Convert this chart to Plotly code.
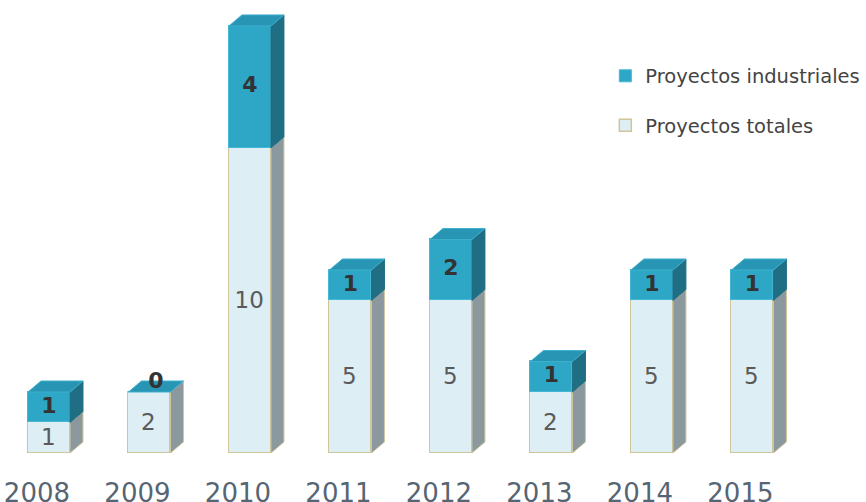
import plotly.graph_objects as go

years = ["2008", "2009", "2010", "2011", "2012", "2013", "2014", "2015"]
totales = [1, 2, 10, 5, 5, 2, 5, 5]
industriales = [1, 0, 4, 1, 2, 1, 1, 1]

xs = list(range(len(years)))
W = 0.418   # bar width (x units)
DX = 0.129  # depth offset x
DY = 0.36   # depth offset y

C_IND_FRONT = "#2ea7c7"
C_IND_SIDE = "#1f6e84"
C_IND_TOP = "#2795b3"
C_TOT_FRONT = "#ddeef5"
C_TOT_EDGE = "#cfc59b"
C_TOT_SIDE = "#8b999e"

fig = go.Figure()

fig.add_trace(go.Bar(
    x=xs, y=totales, width=W, name="Proyectos totales",
    marker=dict(color=C_TOT_FRONT, line=dict(color=C_TOT_EDGE, width=1.5)),
    text=[str(v) for v in totales], textposition="inside", insidetextanchor="middle",
    textangle=0, constraintext="none",
    textfont=dict(family="DejaVu Sans", size=23, color="#5a5a5a"),
    legendgroup="t", legendrank=2, hoverinfo="skip",
))
fig.add_trace(go.Bar(
    x=xs, y=industriales, width=W, name="Proyectos industriales",
    marker=dict(color=C_IND_FRONT, line=dict(color="#45b6d4", width=1)),
    legendgroup="i", legendrank=1, hoverinfo="skip",
))


def poly_trace(polys, fill, line):
    px, py = [], []
    for p in polys:
        for (a, b) in p:
            px.append(a); py.append(b)
        px.append(p[0][0]); py.append(p[0][1])
        px.append(None); py.append(None)
    return go.Scatter(x=px, y=py, mode="lines", fill="toself", fillcolor=fill,
                      line=dict(color=line, width=1), showlegend=False, hoverinfo="skip")


tot_sides, ind_sides, tops = [], [], []
for x, t, i in zip(xs, totales, industriales):
    x0, x1 = x - W / 2, x + W / 2
    tot_sides.append([(x1, 0), (x1 + DX, DY), (x1 + DX, t + DY), (x1, t)])
    if i > 0:
        ind_sides.append([(x1, t), (x1 + DX, t + DY), (x1 + DX, t + i + DY), (x1, t + i)])
    top = t + i
    tops.append([(x0, top), (x0 + DX, top + DY), (x1 + DX, top + DY), (x1, top)])

fig.add_trace(poly_trace(tot_sides, C_TOT_SIDE, C_TOT_EDGE))
fig.add_trace(poly_trace(ind_sides, C_IND_SIDE, C_IND_SIDE))
fig.add_trace(poly_trace(tops, C_IND_TOP, "#3fb0cf"))

# industrial labels
lx, ly = [], []
for x, t, i in zip(xs, totales, industriales):
    if i > 0:
        lx.append(x); ly.append(t + i / 2)
    else:
        lx.append(x + DX / 2); ly.append(t + DY * 0.85)
fig.add_trace(go.Scatter(
    x=lx, y=ly, mode="text", text=[str(v) for v in industriales],
    textfont=dict(family="DejaVu Sans", size=22, color="#333333", weight="bold"),
    showlegend=False, hoverinfo="skip",
))

fig.update_layout(
    width=866, height=502,
    margin=dict(l=0, r=0, t=0, b=49),
    paper_bgcolor="white", plot_bgcolor="white",
    barmode="stack", bargap=0,
    showlegend=True,
    legend=dict(
        x=0.699, y=0.875, xanchor="left", yanchor="top",
        traceorder="grouped", tracegroupgap=21,
        font=dict(family="DejaVu Sans", size=19.5, color="#444444"),
        bgcolor="rgba(0,0,0,0)",
    ),
    xaxis=dict(
        range=[-0.4876, 8.13],
        tickmode="array", tickvals=[x - 0.12 for x in xs], ticktext=years,
        tickfont=dict(family="DejaVu Sans", size=26, color="#566573"),
        showgrid=False, zeroline=False, showline=False, ticks="",
        ticklabelstandoff=22, automargin=False,
    ),
    yaxis=dict(range=[0, 14.85], visible=False, showgrid=False, zeroline=False),
)

fig.write_html("out.html", config={"displayModeBar": False},
               post_script="document.body.style.margin='0';")
